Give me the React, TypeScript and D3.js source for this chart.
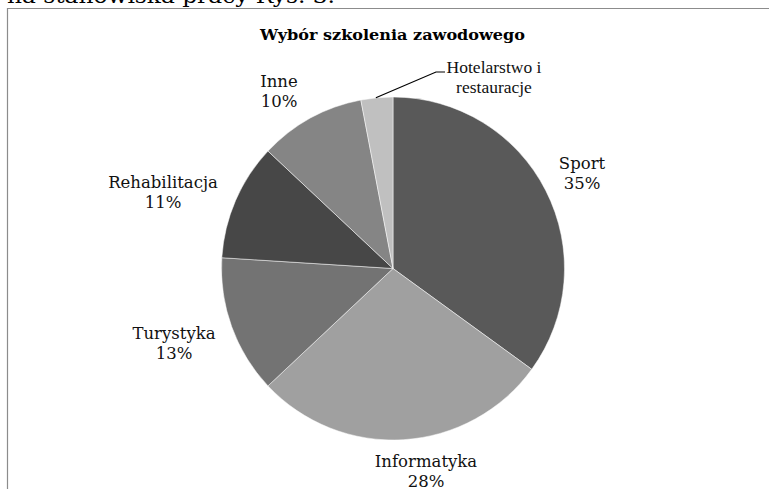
import React from "react";
import * as d3 from "d3";

const categories = ["Sport", "Informatyka", "Turystyka", "Rehabilitacja", "Inne", "Hotelarstwo i restauracje"];
const values = [35, 28, 13, 11, 10, 3];
const colors = ["#595959", "#a0a0a0", "#737373", "#474747", "#858585", "#c0c0c0"];
const labelLines = [["Sport", "35%"], ["Informatyka", "28%"], ["Turystyka", "13%"], ["Rehabilitacja", "11%"], ["Inne", "10%"], ["Hotelarstwo i", "restauracje"]];
const title = "Wybór szkolenia zawodowego";
const topText = "na stanowiska pracy Rys. 3.";

const W = 769, H = 489;
const cx = 393, cy = 268.5, R = 171.5;
// label anchor positions (center x, first baseline y)
const labelPos: [number, number][] = [[582, 169], [426, 467], [174, 339], [163, 188], [279, 87], [494, 73]];

export default function App() {
  const pie = d3.pie<number>().sort(null).value((d) => d);
  const arcs = pie(values);
  const arc = d3.arc<d3.PieArcDatum<number>>().innerRadius(0).outerRadius(R);
  const hotel = arcs[5];
  const mid = (hotel.startAngle + hotel.endAngle) / 2;
  const p0: [number, number] = [cx + Math.sin(mid) * R, cy - Math.cos(mid) * R];
  return (
    <svg width={W} height={H} style={{ position: "absolute", left: 0, top: 0, background: "#fff" }}>
      <text x={7} y={2.5} fontFamily="DejaVu Serif" fontSize={19.5} textLength={328} lengthAdjust="spacingAndGlyphs" fill="#000">{topText}</text>
      <path d={`M7.5,${H} V8.5 H${W}`} fill="none" stroke="#8c8c8c" strokeWidth={1.2} />
      <text x={392.5} y={39.5} textAnchor="middle" fontFamily="DejaVu Serif" fontWeight="bold" fontSize={14} textLength={265} lengthAdjust="spacingAndGlyphs">{title}</text>
      <g transform={`translate(${cx},${cy})`}>
        {arcs.map((a, i) => (
          <path key={categories[i]} d={arc(a) || ""} fill={colors[i]} stroke="#fff" strokeWidth={0.5} />
        ))}
      </g>
      <polyline points={`${p0[0] - 1},${p0[1]} 436,72 445,72`} fill="none" stroke="#000" strokeWidth={1.2} />
      {labelLines.map((lines, i) => (
        <text key={i} textAnchor="middle" fontFamily={i === 5 ? "Liberation Serif" : "DejaVu Serif"} fontSize={i === 5 ? 17.5 : 16.5} fill="#111">
          {lines.map((l, j) => (
            <tspan key={j} x={labelPos[i][0]} y={labelPos[i][1] + j * (i === 5 ? 20 : 20)}>{l}</tspan>
          ))}
        </text>
      ))}
    </svg>
  );
}
